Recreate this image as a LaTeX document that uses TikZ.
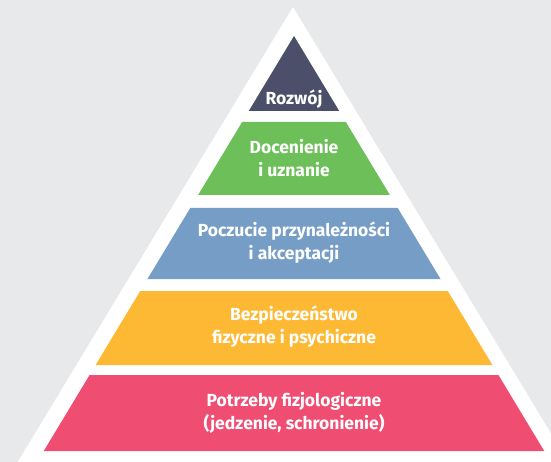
\documentclass[tikz,border=0pt]{standalone}
\usepackage{fontspec}
\setmainfont{Fira Sans}
\usetikzlibrary{positioning}
\definecolor{bgGray}{HTML}{E8E9EB}
\definecolor{tierDark}{HTML}{4B4F69}
\definecolor{tierGreen}{HTML}{6CBF59}
\definecolor{tierBlue}{HTML}{759DC6}
\definecolor{tierYellow}{HTML}{FDB933}
\definecolor{tierRed}{HTML}{EF4E72}

\begin{document}
\begin{tikzpicture}[
    x=1pt, y=-1pt,
    tierText/.style={text=white, font=\bfseries\fontsize{17.5}{23}\selectfont,
                     align=center, inner sep=0pt}
]
\useasboundingbox (0,0) rectangle (551,462);
\clip (0,0) rectangle (551,462);
\fill[bgGray] (0,0) rectangle (551,462);
% outer white frame
\fill[white] (293,7) -- ({293-0.605*460},467) -- ({293+0.605*460},467) -- cycle;
% the five tiers
\foreach \ytop/\ybot/\col in {36/111/tierDark, 122/195/tierGreen,
    208/279/tierBlue, 291/365/tierYellow, 375/451/tierRed}
  \fill[\col] ({294-0.603*(\ytop-36)},\ytop) -- ({294+0.603*(\ytop-36)},\ytop)
    -- ({294+0.603*(\ybot-36)},\ybot) -- ({294-0.603*(\ybot-36)},\ybot) -- cycle;
% labels
\node[tierText] (rozwoj) at (294,99) {Rozwój};
\node[tierText] (docenienie) at (294,158) {Docenienie\\i uznanie};
\node[tierText] (przynaleznosc) at (294,243) {Poczucie przynależności\\i akceptacji};
\node[tierText] (bezpieczenstwo) at (294,327) {Bezpieczeństwo\\fizyczne i psychiczne};
\node[tierText] (potrzeby) at (294,413) {Potrzeby fizjologiczne\\(jedzenie, schronienie)};
\end{tikzpicture}
\end{document}
